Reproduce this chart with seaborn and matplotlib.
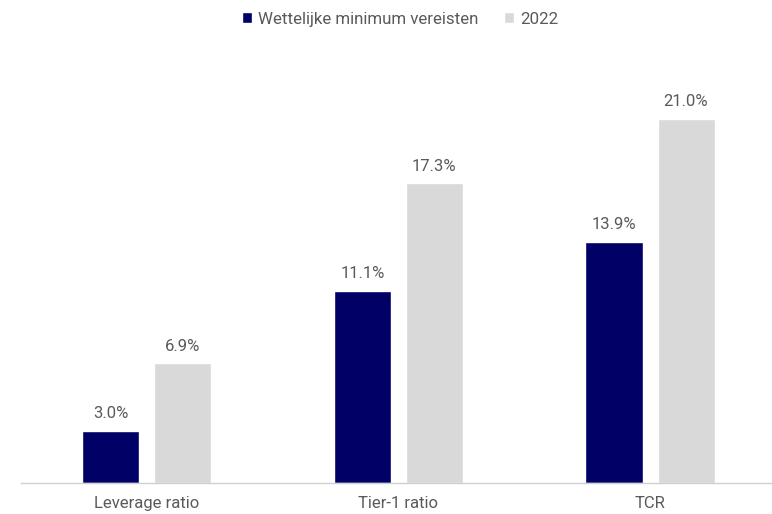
import pandas as pd
import matplotlib
matplotlib.use('Agg')
import matplotlib.pyplot as plt
import seaborn as sns

categories = ['Leverage ratio', 'Tier-1 ratio', 'TCR']
series_names = ['Wettelijke minimum vereisten', '2022']
minimum_values = [3.0, 11.1, 13.9]
values_2022 = [6.9, 17.3, 21.0]

df = pd.DataFrame({
    'category': categories * 2,
    'series': [series_names[0]] * 3 + [series_names[1]] * 3,
    'value': minimum_values + values_2022,
})

sns.set_theme(style='white')
plt.rcParams['font.family'] = ['Roboto', 'DejaVu Sans']
text_color = '#5a5a5a'

fig = plt.figure(figsize=(7.72, 5.14), dpi=100)
ax = fig.add_axes([0.027, 0.0603, 0.978, 0.8427])

sns.barplot(data=df, x='category', y='value', hue='series',
            palette=['#000066', '#d9d9d9'], width=0.5726, gap=0.208,
            saturation=1, ax=ax, legend=True)

# value labels above the bars
for container in ax.containers:
    ax.bar_label(container, fmt='%.1f%%', padding=7, fontsize=12, color=text_color)

ax.set_ylim(0, 25)
ax.set_xlim(-0.5, 2.5)
ax.set_xlabel('')
ax.set_ylabel('')
ax.set_yticks([])
ax.tick_params(axis='x', length=0, labelsize=12, labelcolor=text_color, pad=9)
for side in ['left', 'right', 'top']:
    ax.spines[side].set_visible(False)
ax.spines['bottom'].set_color('#d0d0d0')
ax.spines['bottom'].set_linewidth(1.0)

handles, labels = ax.get_legend_handles_labels()
ax.legend(handles, labels, loc='center', bbox_to_anchor=(0.518, 0.963),
          bbox_transform=fig.transFigure, ncol=2, frameon=False,
          fontsize=12.2, labelcolor=text_color, handlelength=0.6,
          handleheight=0.6, handletextpad=0.35, columnspacing=1.5)

fig.savefig('out.png', dpi=100)
